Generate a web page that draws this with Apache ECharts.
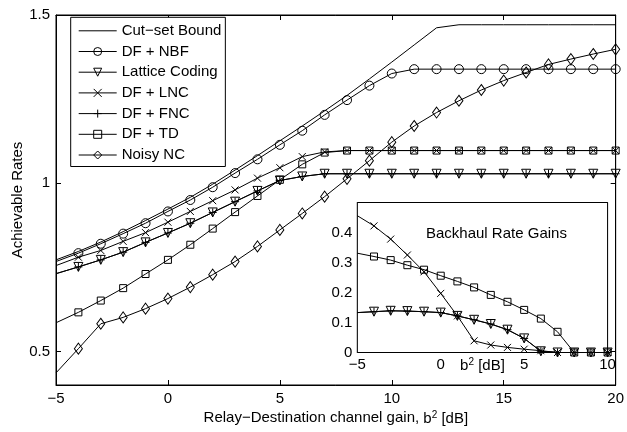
<!DOCTYPE html>
<html><head><meta charset="utf-8">
<script src="https://cdn.jsdelivr.net/npm/echarts@6/dist/echarts.min.js"></script>
<style>html,body{margin:0;padding:0;background:#fff}#c{width:627px;height:432px}</style>
</head><body><div id="c"></div>
<script>
// ---- data ----
const xMain = [-5,-4,-3,-2,-1,0,1,2,3,4,5,6,7,8,9,10,11,12,13,14,15,16,17,18,19,20];
const cutSet  = [0.772,0.797,0.825,0.856,0.889,0.923,0.958,0.997,1.039,1.082,1.126,1.170,1.215,1.261,1.310,1.360,1.411,1.462,1.471,1.471,1.471,1.471,1.471,1.471,1.471,1.471];
const dfNbf   = [0.767,0.792,0.820,0.850,0.881,0.916,0.950,0.988,1.030,1.071,1.114,1.156,1.203,1.247,1.290,1.326,1.339,1.339,1.339,1.339,1.339,1.339,1.339,1.339,1.339,1.339];
const lattice = [0.731,0.751,0.772,0.795,0.824,0.852,0.881,0.913,0.945,0.977,1.008,1.020,1.028,1.028,1.028,1.028,1.028,1.028,1.028,1.028,1.028,1.028,1.028,1.028,1.028,1.028];
const dfLnc   = [0.755,0.780,0.800,0.827,0.853,0.884,0.916,0.948,0.980,1.015,1.046,1.079,1.093,1.097,1.097,1.097,1.097,1.097,1.097,1.097,1.097,1.097,1.097,1.097,1.097,1.097];
const dfFnc   = [0.731,0.751,0.772,0.795,0.824,0.852,0.881,0.913,0.945,0.977,1.008,1.020,1.028,1.028,1.028,1.028,1.028,1.028,1.028,1.028,1.028,1.028,1.028,1.028,1.028,1.028];
const dfTd    = [0.585,0.616,0.651,0.688,0.730,0.772,0.817,0.865,0.914,0.962,1.010,1.056,1.091,1.097,1.097,1.097,1.097,1.097,1.097,1.097,1.097,1.097,1.097,1.097,1.097,1.097];
const noisyNc = [0.436,0.508,0.582,0.601,0.627,0.657,0.691,0.728,0.767,0.812,0.861,0.910,0.960,1.013,1.067,1.122,1.170,1.210,1.245,1.277,1.305,1.329,1.353,1.369,1.384,1.398];

const xInset      = [-5,-4,-3,-2,-1,0,1,2,3,4,5,6,7,8,9,10];
const gainLnc     = [0.456,0.422,0.378,0.325,0.269,0.197,0.122,0.039,0.025,0.017,0.011,0.006,0,0,0,0];
const gainTd      = [0.331,0.320,0.308,0.291,0.276,0.256,0.237,0.217,0.192,0.169,0.142,0.113,0.069,0,0,0];
const gainLattice = [0.133,0.136,0.139,0.138,0.136,0.133,0.122,0.109,0.095,0.076,0.047,0.004,0,0,0,0];
const gainFnc     = [0.133,0.136,0.139,0.138,0.136,0.133,0.122,0.109,0.095,0.076,0.047,0.004,0,0,0,0];

const mainYTicks  = [0.5, 1, 1.5];
const insetYTicks = [0, 0.1, 0.2, 0.3, 0.4];
const legendNames = ['Cut\u2212set Bound','DF + NBF','Lattice Coding','DF + LNC','DF + FNC','DF + TD','Noisy NC'];

// ---- styling ----
const FONT = 'Liberation Sans, Arial, Helvetica, sans-serif';
const FS = 15;
const SYM = {
  none: 'none',
  circle: 'circle',
  tri: 'path://M0,0L10,0L5,8.66Z',
  cross: 'path://M0,0L10,10M0,10L10,0',
  plus: 'path://M5,0L5,10M0,5L10,5',
  square: 'rect',
  diamond: 'diamond'
};
const SIZE = {none: 0, circle: 9, tri: 9, cross: 7, plus: 8, square: 7, diamond: [8, 11]};

function mkData(xs, ys) {
  return xs.map((x, i) => i === 0 ? {value: [x, ys[i]], symbol: 'none'} : [x, ys[i]]);
}
function mkSeries(name, xs, ys, sym, gi) {
  return {
    name: name, type: 'line', xAxisIndex: gi * 2, yAxisIndex: gi * 2,
    data: mkData(xs, ys),
    symbol: SYM[sym], symbolSize: SIZE[sym], showSymbol: sym !== 'none',
    lineStyle: {color: '#000', width: 1},
    itemStyle: {color: 'transparent', borderColor: '#000', borderWidth: 1},
    emphasis: {disabled: true}, animation: false, silent: true, z: 3
  };
}

const supRich = {
  s: {fontSize: FS, fontFamily: FONT, color: '#000', verticalAlign: 'bottom'},
  sup: {fontSize: 10, fontFamily: FONT, color: '#000', verticalAlign: 'top', padding: [0, 0, 6, 0]}
};
const axisLine = {show: true, onZero: false, lineStyle: {color: '#000', width: 1}};
const minusFmt = v => String(v).replace('-', '\u2212');
function tick(len, vals) {
  const t = {inside: true, length: len, lineStyle: {color: '#000', width: 1}};
  if (vals) t.customValues = vals;
  return t;
}
function lab(margin, vals) {
  const l = {color: '#000', fontFamily: FONT, fontSize: FS, margin: margin, formatter: minusFmt};
  if (vals) l.customValues = vals;
  return l;
}

const legendData = legendNames.map((n, i) => i === 0
  ? {name: n, itemStyle: {color: 'transparent', borderColor: 'transparent', borderWidth: 0}}
  : {name: n});

const option = {
  animation: false,
  backgroundColor: '#fff',
  textStyle: {fontFamily: FONT},
  grid: [
    {left: 56, top: 15, right: 9, bottom: 47, show: true, backgroundColor: 'transparent', borderColor: '#000', borderWidth: 1, z: 0},
    {left: 357.3, top: 202.5, width: 250.3, height: 150, show: true, backgroundColor: '#fff', borderColor: '#000', borderWidth: 1, z: 1}
  ],
  legend: {
    data: legendData, orient: 'vertical', left: 70.7, top: 17.3,
    backgroundColor: '#fff', borderColor: '#000', borderWidth: 1,
    padding: [6, 4, 4, 7.5], itemWidth: 38, itemHeight: 10, itemGap: 5.7,
    lineStyle: {width: 1, color: '#000'},
    itemStyle: {borderWidth: 1, borderColor: '#000', color: 'transparent'},
    textStyle: {color: '#000', fontFamily: FONT, fontSize: FS},
    selectedMode: false, z: 5
  },
  xAxis: [
    {gridIndex: 0, type: 'value', min: -5, max: 20, interval: 5, position: 'bottom',
      axisLine: axisLine, splitLine: {show: false}, axisTick: tick(5), axisLabel: lab(6),
      name: 'Relay\u2212Destination channel gain, {s|b}{sup|2}{s| [dB]}', nameLocation: 'middle', nameGap: 25,
      nameMoveOverlap: false,
      nameTextStyle: {color: '#000', fontFamily: FONT, fontSize: FS, rich: supRich}},
    {gridIndex: 0, type: 'value', min: -5, max: 20, interval: 5, position: 'top',
      axisLine: axisLine, splitLine: {show: false}, axisTick: tick(5), axisLabel: {show: false}},
    {gridIndex: 1, type: 'value', min: -5, max: 10, interval: 5, position: 'bottom',
      axisLine: axisLine, splitLine: {show: false}, axisTick: tick(4), axisLabel: lab(5),
      name: '{s|b}{sup|2}{s| [dB]}', nameLocation: 'middle', nameGap: 5,
      nameMoveOverlap: false,
      nameTextStyle: {color: '#000', fontFamily: FONT, fontSize: FS, rich: supRich}},
    {gridIndex: 1, type: 'value', min: -5, max: 10, interval: 5, position: 'top',
      axisLine: axisLine, splitLine: {show: false}, axisTick: tick(4), axisLabel: {show: false}}
  ],
  yAxis: [
    {gridIndex: 0, type: 'value', min: 0.4, max: 1.5, position: 'left',
      axisLine: axisLine, splitLine: {show: false}, axisTick: tick(5, mainYTicks), axisLabel: lab(6, mainYTicks),
      name: 'Achievable Rates', nameLocation: 'middle', nameGap: 31, nameMoveOverlap: false,
      nameTextStyle: {color: '#000', fontFamily: FONT, fontSize: FS}},
    {gridIndex: 0, type: 'value', min: 0.4, max: 1.5, position: 'right',
      axisLine: axisLine, splitLine: {show: false}, axisTick: tick(5, mainYTicks), axisLabel: {show: false}},
    {gridIndex: 1, type: 'value', min: 0, max: 0.5, position: 'left',
      axisLine: axisLine, splitLine: {show: false}, axisTick: tick(4, insetYTicks), axisLabel: lab(5, insetYTicks)},
    {gridIndex: 1, type: 'value', min: 0, max: 0.5, position: 'right',
      axisLine: axisLine, splitLine: {show: false}, axisTick: tick(4, insetYTicks), axisLabel: {show: false}}
  ],
  graphic: [{
    type: 'text', left: 426, top: 226, z: 10,
    style: {text: 'Backhaul Rate Gains', fill: '#000', font: FS + 'px ' + FONT}
  }],
  series: [
    mkSeries(legendNames[0], xMain, cutSet, 'none', 0),
    mkSeries(legendNames[1], xMain, dfNbf, 'circle', 0),
    mkSeries(legendNames[2], xMain, lattice, 'tri', 0),
    mkSeries(legendNames[3], xMain, dfLnc, 'cross', 0),
    mkSeries(legendNames[4], xMain, dfFnc, 'plus', 0),
    mkSeries(legendNames[5], xMain, dfTd, 'square', 0),
    mkSeries(legendNames[6], xMain, noisyNc, 'diamond', 0),
    mkSeries('gain LNC', xInset, gainLnc, 'cross', 1),
    mkSeries('gain TD', xInset, gainTd, 'square', 1),
    mkSeries('gain Lattice', xInset, gainLattice, 'tri', 1),
    mkSeries('gain FNC', xInset, gainFnc, 'plus', 1)
  ]
};
const chart = echarts.init(document.getElementById('c'), null, {renderer: 'canvas'});
chart.setOption(option);
</script>
</body></html>
